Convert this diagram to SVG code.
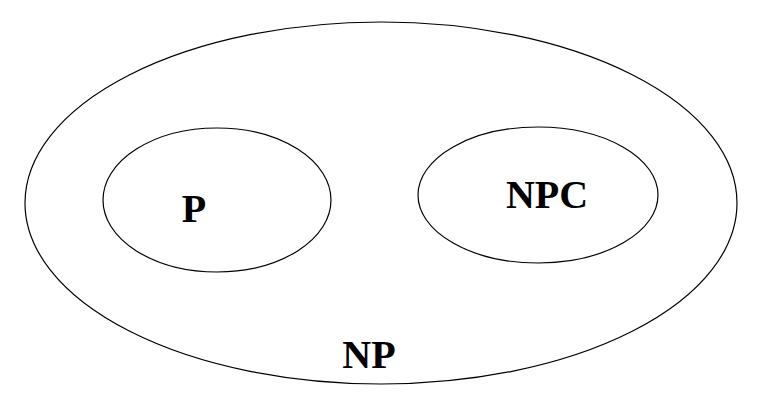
<svg xmlns="http://www.w3.org/2000/svg" width="757" height="415" viewBox="0 0 757 415">
<style>
.set{fill:none;stroke:#000;stroke-width:1.2}
.lbl{font-family:"Liberation Serif","Times New Roman",serif;font-weight:bold;font-size:40px;fill:#000;text-anchor:middle}
</style>
<rect width="757" height="415" fill="#fff"/>
<g id="NP">
<ellipse class="set" cx="381" cy="203" rx="356" ry="181"/>
<text class="lbl" x="369" y="368">NP</text>
</g>
<g id="P">
<ellipse class="set" cx="217" cy="200" rx="114" ry="72"/>
<text class="lbl" x="194" y="222">P</text>
</g>
<g id="NPC">
<ellipse class="set" cx="538" cy="195" rx="120" ry="68"/>
<text class="lbl" x="547" y="208">NPC</text>
</g>
<g id="connectors"></g>
</svg>
